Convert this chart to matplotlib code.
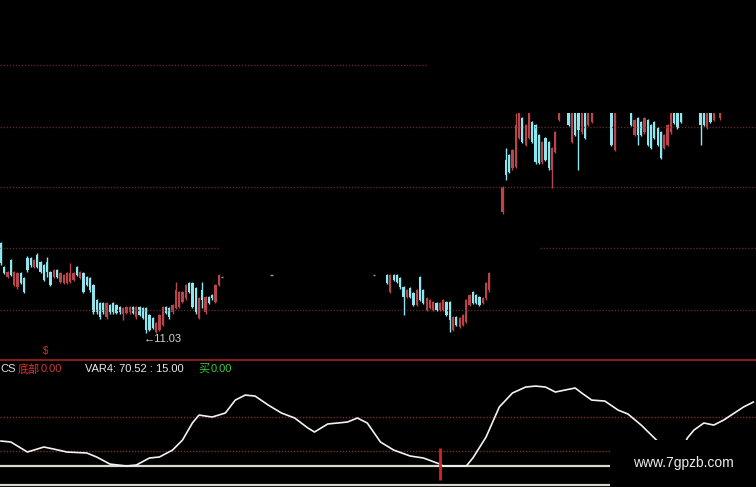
import matplotlib.pyplot as plt
from matplotlib.patches import Rectangle

plt.rcParams['font.family'] = ['Liberation Sans', 'Noto Sans CJK SC', 'DejaVu Sans']

UP = '#b8454a'
DOWN = '#8fe6ee'

# price candles (open, close, high, low); None = no visible bar
seg1_start = 0
seg1_ohlc = [
    (12.50, 12.18, 12.52, 12.15), (12.11, 12.01, 12.13, 12.00), (11.95, 12.03, 12.05, 11.93),
    (12.23, 11.98, 12.25, 11.96), (11.82, 12.03, 12.05, 11.80), (11.78, 12.01, 12.03, 11.76),
    (12.01, 11.85, 12.03, 11.83), (11.93, 11.70, 11.95, 11.68), (12.26, 12.06, 12.30, 12.04),
    (12.26, 12.14, 12.28, 12.12), (12.11, 12.23, 12.25, 12.09), (12.31, 12.11, 12.35, 12.09),
    (12.19, 12.03, 12.21, 12.01), (12.14, 11.90, 12.16, 11.88), (12.19, 12.03, 12.28, 11.95),
    (12.03, 11.82, 12.05, 11.80), (11.95, 12.06, 12.08, 11.93), (12.06, 11.95, 12.08, 11.93),
    (11.87, 12.01, 12.03, 11.85), (11.85, 11.98, 12.00, 11.83), (11.85, 12.01, 12.03, 11.83),
    (11.87, 12.01, 12.18, 11.85), (11.90, 12.01, 12.03, 11.88), (12.11, 11.98, 12.13, 11.96),
    (11.93, 12.03, 12.05, 11.91), (12.01, 11.70, 12.03, 11.68), (11.95, 11.82, 11.97, 11.80),
    (11.93, 11.73, 11.95, 11.71), (11.82, 11.37, 11.84, 11.35), (11.57, 11.37, 11.59, 11.35),
    (11.52, 11.29, 11.54, 11.27), (11.52, 11.37, 11.54, 11.35), (11.29, 11.52, 11.54, 11.27),
    (11.49, 11.37, 11.51, 11.35), (11.52, 11.37, 11.54, 11.35), (11.49, 11.36, 11.51, 11.34),
    (11.46, 11.37, 11.48, 11.35), (11.34, 11.44, 11.46, 11.24), (11.36, 11.46, 11.48, 11.34),
    (11.37, 11.46, 11.48, 11.35), (11.46, 11.36, 11.48, 11.34), (11.29, 11.46, 11.48, 11.27),
    (11.46, 11.33, 11.48, 11.31), (11.44, 11.28, 11.46, 11.26), (11.44, 11.08, 11.46, 11.03),
    (11.33, 11.08, 11.35, 11.06), (11.28, 11.11, 11.30, 11.09), (11.05, 11.19, 11.21, 11.04),
    (11.08, 11.33, 11.35, 11.06), (11.16, 11.46, 11.48, 11.14), (11.46, 11.36, 11.48, 11.34),
    (11.44, 11.29, 11.46, 11.27), (11.37, 11.49, 11.51, 11.35), (11.44, 11.73, 11.87, 11.42),
    (11.46, 11.70, 11.72, 11.44), (11.54, 11.70, 11.72, 11.52), (11.60, 11.82, 11.84, 11.58),
    (11.85, 11.70, 11.87, 11.68), (11.85, 11.46, 11.87, 11.44), (11.77, 11.37, 11.79, 11.35),
    (11.28, 11.60, 11.62, 11.26), (11.73, 11.57, 11.87, 11.44), (11.37, 11.62, 11.64, 11.35),
    (11.62, 11.52, 11.64, 11.50), (11.65, 11.60, 11.67, 11.58), (11.54, 11.82, 11.84, 11.52),
    (11.82, 11.98, 12.00, 11.80),
]

# flat bars while trading was halted
doji_idx = [67, 82, 113]
doji_price = [11.95, 11.98, 11.98]

seg2_start = 117
seg2_ohlc = [
    (11.98, 11.85, 12.00, 11.83), (11.70, 11.98, 12.00, 11.68), (11.98, 11.90, 12.00, 11.88),
    (11.98, 11.87, 12.00, 11.85), (11.93, 11.78, 11.95, 11.76), (11.78, 11.62, 11.80, 11.33),
    (11.62, 11.73, 11.75, 11.60), (11.77, 11.62, 11.79, 11.60), (11.69, 11.49, 11.71, 11.47),
    (11.49, 11.73, 11.75, 11.47), (11.95, 11.57, 11.97, 11.55), (11.73, 11.52, 11.75, 11.50),
    (11.41, 11.60, 11.62, 11.39), (11.44, 11.57, 11.59, 11.42), (11.41, 11.54, 11.56, 11.39),
    (11.52, 11.41, 11.54, 11.39), (11.41, 11.52, 11.54, 11.39), (11.41, 11.57, 11.59, 11.39),
    (11.54, 11.33, 11.56, 11.31), (11.54, 11.24, 11.56, 11.05), (11.08, 11.29, 11.31, 11.06),
    (11.29, 11.16, 11.31, 11.14), (11.13, 11.28, 11.30, 11.11), (11.16, 11.33, 11.35, 11.14),
    (11.21, 11.57, 11.59, 11.19), (11.49, 11.65, 11.67, 11.47), (11.70, 11.52, 11.72, 11.50),
    (11.65, 11.52, 11.67, 11.50), (11.62, 11.49, 11.64, 11.47), (11.52, 11.60, 11.62, 11.50),
    (11.60, 11.85, 11.87, 11.58), (11.73, 12.01, 12.03, 11.71),
]

seg3_start = 152
seg3_ohlc = [
    (13.01, 13.42, 13.44, 12.99), (13.87, 13.62, 14.06, 13.54), (13.95, 13.67, 13.97, 13.65),
    (13.73, 14.03, 14.05, 13.71), (13.75, 14.44, 14.64, 13.73), (14.23, 14.64, 14.64, 14.21),
    (14.55, 14.16, 14.57, 14.14), (14.11, 14.44, 14.46, 14.09), (14.23, 14.64, 14.64, 14.21),
    (14.49, 14.16, 14.51, 14.14), (14.44, 13.83, 14.46, 13.81), (14.28, 13.82, 14.30, 13.80),
    (13.83, 14.16, 14.18, 13.81), (14.23, 13.87, 14.25, 13.85), (14.16, 13.73, 14.18, 13.71),
    (13.70, 14.06, 14.08, 13.41), (14.00, 14.32, 14.34, 13.98), (14.52, 14.64, 14.64, 14.50),
    None, None,
    (14.64, 14.44, 14.64, 14.42), (14.16, 14.64, 14.64, 14.14), (14.64, 14.28, 14.64, 14.26),
    (14.64, 14.36, 14.64, 13.70), (14.32, 14.64, 14.64, 14.30), (14.64, 14.23, 14.64, 14.21),
    (14.44, 14.64, 14.64, 14.42), (14.49, 14.64, 14.64, 14.47),
    None, None, None, None, None,
    (14.64, 14.11, 14.64, 14.09), (14.03, 14.64, 14.64, 14.01),
    None, None, None, None,
    (14.64, 14.44, 14.64, 14.42), (14.28, 14.52, 14.54, 14.26), (14.55, 14.28, 14.57, 14.11),
    (14.49, 14.28, 14.51, 14.26), (14.32, 14.55, 14.57, 14.30), (14.52, 14.11, 14.54, 14.09),
    (14.44, 14.06, 14.46, 14.04), (14.49, 14.23, 14.51, 14.21), (14.39, 14.11, 14.41, 14.09),
    (14.32, 13.90, 14.34, 13.88), (14.06, 14.28, 14.30, 14.04), (14.11, 14.44, 14.46, 14.09),
    (14.32, 14.64, 14.64, 14.30), (14.64, 14.47, 14.64, 14.45), (14.64, 14.39, 14.64, 14.37),
    (14.64, 14.49, 14.64, 14.47),
    None, None, None, None, None,
    (14.64, 14.44, 14.64, 14.11), (14.64, 14.44, 14.64, 14.42), (14.39, 14.64, 14.64, 14.37),
    (14.64, 14.49, 14.64, 14.47), (14.52, 14.64, 14.64, 14.50),
    None,
    (14.55, 14.64, 14.64, 14.53),
]

price_grid = [11.41, 12.42, 13.42, 14.41, 15.42]
low_idx = 44
low_price = 11.03

# indicator curve (bar index, value)
var_x = [0, 3, 8, 13, 16, 20, 26, 29, 33, 38, 41, 45, 48, 52, 55, 58, 60, 64, 68, 71,
         74, 77, 81, 85, 89, 93, 95, 99, 102, 105, 108, 111, 115, 119, 124, 128, 133, 134,
         141, 143, 147, 151, 155, 159, 162, 165, 168, 171, 174, 176, 179, 183, 187, 190,
         194, 198, 203, 206, 208, 210, 213, 216, 219, 225, 228]
var_y = [25.5, 24.5, 14.3, 19.4, 17.3, 14.3, 13.3, 9.2, 2.0, 0.0, 1.0, 8.2, 9.2, 16.3, 26.5,
         43.9, 52.0, 50.0, 54.1, 67.3, 72.4, 71.4, 62.2, 54.1, 49.0, 38.8, 34.7, 42.9, 43.9,
         44.9, 49.0, 43.9, 24.5, 16.3, 10.2, 8.2, 2.0, 0.0, 0.0, 8.2, 29.6, 60.2, 74.5, 80.6,
         81.6, 80.6, 75.5, 77.6, 79.6, 74.5, 67.3, 66.3, 57.1, 53.1, 41.8, 28.6, 12.0, 14.0,
         28.6, 36.7, 43.9, 41.8, 46.9, 60.2, 65.3]
var_levels = [15, 50]
signal_idx = 133


def draw_candles(ax, start, bars):
    for k, bar in enumerate(bars):
        if bar is None:
            continue
        o, c, h, l = bar
        x = start + k
        col = UP if c >= o else DOWN
        ax.vlines(x, l, h, color=col, lw=1)
        ax.bar(x, max(abs(c - o), 0.012), bottom=min(o, c), width=0.68, color=col, lw=0)


W, H = 756.0, 487.0
fig = plt.figure(figsize=(7.56, 4.87), dpi=100, facecolor='black')

def px(x, y):
    return x / W, 1 - y / H

ax = fig.add_axes([0, 1 - 360 / H, 1, 360 / H])
ax2 = fig.add_axes([0, 0, 1, 127 / H])
for a in (ax, ax2):
    a.set_facecolor('black')
    a.set_xlim(-0.3, 228.8)
    a.set_xticks([])
    a.set_yticks([])
    for s in a.spines.values():
        s.set_visible(False)

ax.set_ylim(10.59, 16.49)
ax2.set_ylim(-21.4, 108.2)

grid_col = '#5a2828'
dot = (0, (1, 1.2))
ax.hlines(price_grid[4], -0.3, 129, colors=grid_col, linestyles=dot, lw=1)
ax.hlines(price_grid[3], -0.3, 228.8, colors=grid_col, linestyles=dot, lw=1)
ax.hlines(price_grid[2], -0.3, 228.8, colors=grid_col, linestyles=dot, lw=1)
ax.hlines(price_grid[1], -0.3, 66.4, colors=grid_col, linestyles=dot, lw=1)
ax.hlines(price_grid[1], 163.3, 228.8, colors=grid_col, linestyles=dot, lw=1)
ax.hlines(price_grid[0], -0.3, 228.8, colors=grid_col, linestyles=dot, lw=1)

draw_candles(ax, seg1_start, seg1_ohlc)
draw_candles(ax, seg2_start, seg2_ohlc)
draw_candles(ax, seg3_start, seg3_ohlc)
ax.hlines(doji_price, [i - 0.4 for i in doji_idx], [i + 0.4 for i in doji_idx],
          colors='#9a9a9a', lw=1)

ax.text(low_idx - 0.6, low_price - 0.02, '\u219011.03', color='#d0d0d0', fontsize=8,
        ha='left', va='top')

# separator
fig.add_artist(plt.Line2D([0, 1], [1 - 360 / H, 1 - 360 / H], color='#a52020', lw=1.2))

# lower panel
ax2.axhline(var_levels[1], color='#7a2e2e', ls=dot, lw=1)
ax2.axhline(var_levels[0], color='#7a2e2e', ls=dot, lw=1)
ax2.axhline(0, color='#d8d8d0', lw=1.6)
ax2.axhline(-19.4, color='#d8d8d0', lw=1.6)
ax2.plot(var_x, var_y, color='#f2f2f2', lw=1.2)
ax2.vlines(signal_idx, -14.3, 18.4, color='#e02020', lw=2)

fs = 8
fig.text(*px(0, 369), 'CS', color='#e0e0e0', fontsize=fs, va='center')
fig.text(*px(18, 369), '底部', color='#e03030', fontsize=fs, va='center')
fig.text(*px(41, 369), '0.00', color='#c83a3a', fontsize=fs, va='center')
fig.text(*px(85, 369), 'VAR4: 70.52 : 15.00', color='#e8e8e8', fontsize=fs, va='center')
fig.text(*px(198, 369), '买', color='#3cc83c', fontsize=fs, va='center')
fig.text(*px(211, 369), '0.00', color='#3cc83c', fontsize=fs, va='center')
fig.text(*px(43, 351), '$', color='#d03030', fontsize=7, va='center')

# watermark box
fig.add_artist(Rectangle(px(610, 487), (W - 610) / W, (487 - 440) / H,
                         transform=fig.transFigure, facecolor='black', edgecolor='none',
                         zorder=5))
fig.text(*px(683, 463), 'www.7gpzb.com', color='#ececec', fontsize=10, ha='center',
         va='center', zorder=6)

fig.savefig('out.png', dpi=100, facecolor='black')
